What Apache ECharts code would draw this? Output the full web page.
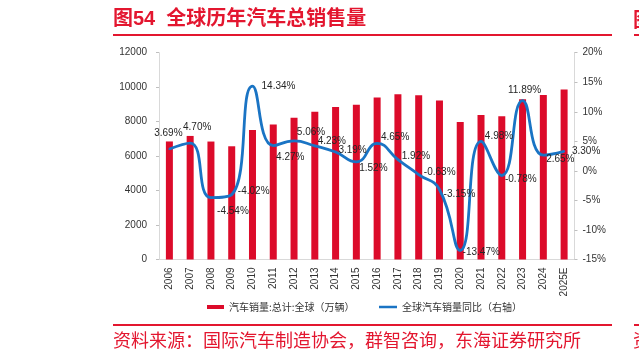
<!DOCTYPE html>
<html>
<head>
<meta charset="utf-8">
<script src="https://cdn.jsdelivr.net/npm/echarts@6/dist/echarts.min.js"></script>
<style>
html,body{margin:0;padding:0;background:#fff;}
#chart{width:639px;height:360px;}
</style>
</head>
<body>
<div id="chart"></div>
<script>
const years = ['2006','2007','2008','2009','2010','2011','2012','2013','2014','2015','2016','2017','2018','2019','2020','2021','2022','2023','2024','2025E'];
const sales = [6850, 7170, 6845, 6570, 7512, 7833, 8229, 8577, 8851, 8985, 9403, 9584, 9524, 9224, 7982, 8380, 8314, 9302, 9549, 9864];
const growth = [3.69, 4.70, -4.54, -4.02, 14.34, 4.27, 5.06, 4.23, 3.19, 1.52, 4.65, 1.92, -0.63, -3.15, -13.47, 4.98, -0.78, 11.89, 2.65, 3.30];
const salesName = '汽车销量:总计:全球（万辆）';
const growthName = '全球汽车销量同比（右轴）';
const titleText = '图54  全球历年汽车总销售量';
const sourceText = '资料来源：国际汽车制造协会，群智咨询，东海证券研究所';

// label placement (style only)
const labelOffsets = [[-1,-16],[7,-16],[22,14],[22,-3],[26,0],[17,12],[17,-9],[17,-5],[17,-2],[17,6],[18,-6],[18,-3],[21,-2],[20,5],[21,2],[18,-5],[19,4],[2,-10],[17,4],[22,0]];

const RED = '#DC0B2A';
const BLUE = '#1A74C4';
const FONT = '"Liberation Sans", "Noto Sans CJK SC", sans-serif';
const CJK = '"Noto Sans CJK SC", "Liberation Sans", sans-serif';

const chart = echarts.init(document.getElementById('chart'), null, {renderer: 'canvas'});
const option = {
  animation: false,
  backgroundColor: '#fff',
  title: [
    {text: titleText, left: 113, top: 9, padding: 0,
     textStyle: {fontFamily: FONT, fontSize: 20, fontWeight: 'bold', color: '#E3162F'}},
    {text: sourceText, left: 113, top: 331, padding: 0,
     textStyle: {fontFamily: CJK, fontSize: 18, fontWeight: 'normal', color: '#E3162F'}}
  ],
  graphic: [
    {type: 'line', shape: {x1: 113, y1: 35, x2: 612, y2: 35}, style: {stroke: '#E3162F', lineWidth: 2}},
    {type: 'line', shape: {x1: 113, y1: 325, x2: 612, y2: 325}, style: {stroke: '#E3162F', lineWidth: 2}},
    {type: 'line', shape: {x1: 634, y1: 35, x2: 645, y2: 35}, style: {stroke: '#E3162F', lineWidth: 2}},
    {type: 'line', shape: {x1: 634, y1: 325, x2: 645, y2: 325}, style: {stroke: '#E3162F', lineWidth: 2}},
    {type: 'text', left: 633, top: 9, style: {text: '图', font: 'bold 20px ' + CJK, fill: '#E3162F'}},
    {type: 'text', left: 633, top: 331, style: {text: '资', font: '18px ' + CJK, fill: '#E3162F'}}
  ],
  legend: [
    {data: [{name: salesName, icon: 'rect'}], left: 207, top: 302, padding: 0,
     itemWidth: 17, itemHeight: 4,
     textStyle: {fontFamily: CJK, fontSize: 10, color: '#333'}},
    {data: [{name: growthName, icon: 'rect'}], left: 379, top: 302, padding: 0,
     itemWidth: 18, itemHeight: 2.5,
     textStyle: {fontFamily: CJK, fontSize: 10, color: '#333'}}
  ],
  grid: {left: 159, right: 64.5, top: 52.7, bottom: 100.5, containLabel: false},
  xAxis: {
    type: 'category', data: years,
    axisLine: {lineStyle: {color: '#D9D9D9', width: 1}},
    axisTick: {show: false},
    axisLabel: {rotate: 90, interval: 0, margin: 8, fontFamily: FONT, fontSize: 10, color: '#333'}
  },
  yAxis: [
    {type: 'value', min: 0, max: 12000, interval: 2000, position: 'left',
     axisLine: {show: true, lineStyle: {color: '#D9D9D9'}},
     axisTick: {show: true, length: 3, lineStyle: {color: '#BFBFBF'}},
     splitLine: {show: false},
     axisLabel: {margin: 12, fontFamily: FONT, fontSize: 10, color: '#333', formatter: v => String(v)}},
    {type: 'value', min: -15, max: 20, interval: 5, position: 'right',
     axisLine: {show: true, lineStyle: {color: '#D9D9D9'}},
     axisTick: {show: true, length: 3, lineStyle: {color: '#BFBFBF'}},
     splitLine: {show: false},
     axisLabel: {margin: 8, fontFamily: FONT, fontSize: 10, color: '#333', formatter: '{value}%'}}
  ],
  series: [
    {name: salesName, type: 'bar', yAxisIndex: 0, data: sales, barWidth: 7,
     itemStyle: {color: RED}},
    {name: growthName, type: 'line', yAxisIndex: 1, smooth: 0.5,
     symbol: 'circle', symbolSize: 2, showSymbol: true,
     lineStyle: {color: BLUE, width: 2.8}, itemStyle: {color: BLUE},
     data: growth.map((v, i) => ({
       value: v,
       label: {show: true, position: 'inside', offset: labelOffsets[i],
               formatter: v.toFixed(2) + '%',
               fontFamily: FONT, fontSize: 10, color: '#262626'}
     })),
     z: 5}
  ]
};
chart.setOption(option);
</script>
</body>
</html>
